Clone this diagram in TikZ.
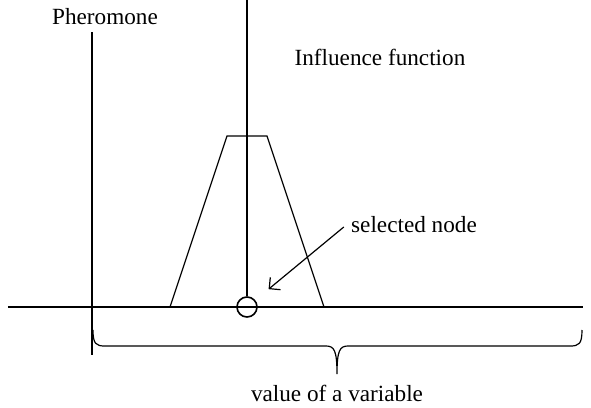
\documentclass[tikz,border=0pt]{standalone}
\usepackage{fontspec}
\setmainfont{Liberation Serif}
\usetikzlibrary{arrows.meta, positioning, calc}

\begin{document}
\begin{tikzpicture}[x=0.5pt, y=-0.5pt,
    axis/.style={line width=0.9pt},
    thinline/.style={line width=0.6pt},
    lbl/.style={font=\fontsize{11.6}{14}\selectfont, inner sep=0pt}]
  \useasboundingbox (0,0) rectangle (591,408);

  % Axes
  \draw[axis] (8,307) -- (583,307);
  \draw[axis] (92,32) -- (92,355);
  \node[lbl] (pher) at (105,17) {Pheromone};

  % Influence function
  \draw[thinline] (170,307) -- (227,136) -- (267,136) -- (324,307);
  \node[lbl] (infl) at (380,57) {Influence function};

  % Selected node
  \node[circle, draw, line width=0.8pt, minimum size=10pt, inner sep=0pt] (dot) at (247,307) {};
  \draw[line width=0.8pt] (247,0) -- (dot.north);
  \node[lbl] (sel) at (414,225) {selected node};
  \draw[thinline, -{Straight Barb[length=4pt]}, shorten >=14pt]
    ($(sel.west)+(-7,2)$) -- (dot.center);

  % Brace under the axis
  \draw[thinline] (93,330) .. controls (93,344) and (96,346) .. (105,346)
    -- (326,346) .. controls (334,346) and (337,350) .. (337,374)
    .. controls (337,350) and (340,346) .. (348,346)
    -- (570,346) .. controls (579,346) and (582,344) .. (582,330);
  \node[lbl] (val) at (337,393) {value of a variable};
\end{tikzpicture}
\end{document}
